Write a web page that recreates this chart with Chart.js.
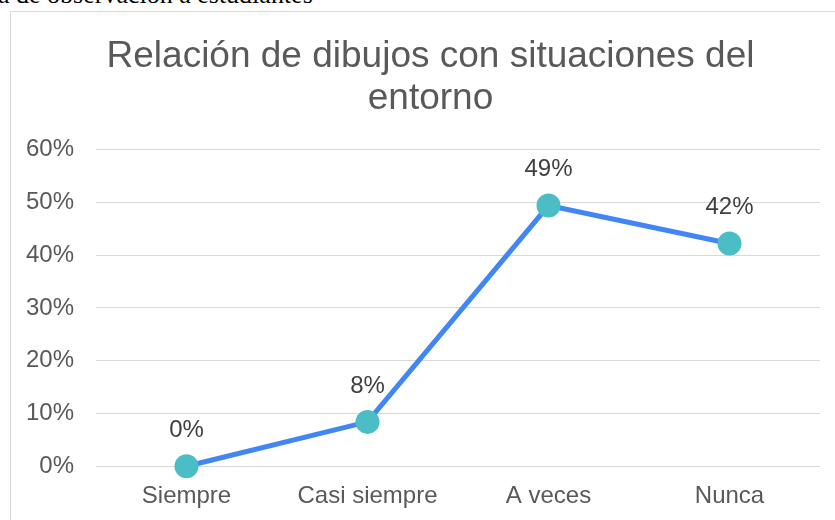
<!DOCTYPE html>
<html>
<head>
<meta charset="utf-8">
<script src="https://cdn.jsdelivr.net/npm/chart.js@4.4.1/dist/chart.umd.min.js"></script>
<style>
  html, body { margin: 0; padding: 0; width: 835px; height: 520px; overflow: hidden; background: #ffffff; }
  #caption { position: absolute; left: -2px; top: -18px; font: 26px "Liberation Serif", "Times New Roman", serif; color: #000; white-space: nowrap; line-height: 26px; }
  #box { position: absolute; left: 10px; top: 11px; width: 840px; height: 530px; border-left: 1px solid #d9d9d9; border-top: 1px solid #d9d9d9; }
  #c { display: block; }
</style>
</head>
<body>
<div id="caption">a de observación a estudiantes</div>
<div id="box"><canvas id="c" width="840" height="522"></canvas></div>
<script>
const titleLines = ["Relación de dibujos con situaciones del", "entorno"];
const categories = ["Siempre", "Casi siempre", "A veces", "Nunca"];
const values = [0.0, 0.084, 0.494, 0.422];
const yTicks = [0, 0.1, 0.2, 0.3, 0.4, 0.5, 0.6];

const fmtPct = v => Math.round(v * 100) + "%";

const dataLabels = {
  id: "dataLabels",
  afterDatasetsDraw(chart) {
    const ctx = chart.ctx;
    const meta = chart.getDatasetMeta(0);
    ctx.save();
    ctx.font = '24px "Liberation Sans", Arial, sans-serif';
    ctx.fillStyle = "#404040";
    ctx.textAlign = "center";
    ctx.textBaseline = "middle";
    meta.data.forEach((pt, i) => {
      ctx.fillText(fmtPct(values[i]), pt.x, pt.y - 36);
    });
    ctx.restore();
  }
};

const titleShift = {
  id: "titleShift",
  afterLayout(chart) {
    if (chart.titleBlock) {
      chart.titleBlock.left = 30;
    }
  }
};

new Chart(document.getElementById("c"), {
  type: "line",
  data: {
    labels: categories,
    datasets: [{
      data: values,
      borderColor: "#4285f4",
      borderWidth: 5,
      pointBackgroundColor: "#4bbdc5",
      pointBorderColor: "#4bbdc5",
      pointBorderWidth: 0,
      pointRadius: 12,
      pointHoverRadius: 12,
      tension: 0,
      fill: false,
      clip: false
    }]
  },
  options: {
    responsive: false,
    animation: false,
    events: [],
    layout: { padding: { left: 0, right: 31, top: 10, bottom: 7 } },
    plugins: {
      legend: { display: false },
      tooltip: { enabled: false },
      title: {
        display: true,
        text: titleLines,
        color: "#595959",
        font: { family: '"Liberation Sans", Arial, sans-serif', size: 37, weight: "normal", lineHeight: 1.13 },
        padding: { top: 14, bottom: 30 }
      }
    },
    scales: {
      x: {
        offset: true,
        grid: { display: false, drawTicks: false },
        border: { display: false },
        ticks: {
          color: "#595959",
          font: { family: '"Liberation Sans", Arial, sans-serif', size: 24 },
          padding: 16
        }
      },
      y: {
        min: 0,
        max: 0.6,
        afterFit(scale) { scale.width = 85; },
        afterBuildTicks(scale) { scale.ticks = yTicks.map(v => ({ value: v })); },
        grid: { color: "#d9d9d9", lineWidth: 1, drawTicks: false },
        border: { display: false },
        ticks: {
          color: "#595959",
          font: { family: '"Liberation Sans", Arial, sans-serif', size: 24 },
          padding: 22,
          callback: v => fmtPct(v)
        }
      }
    }
  },
  plugins: [dataLabels, titleShift]
});
</script>
</body>
</html>
